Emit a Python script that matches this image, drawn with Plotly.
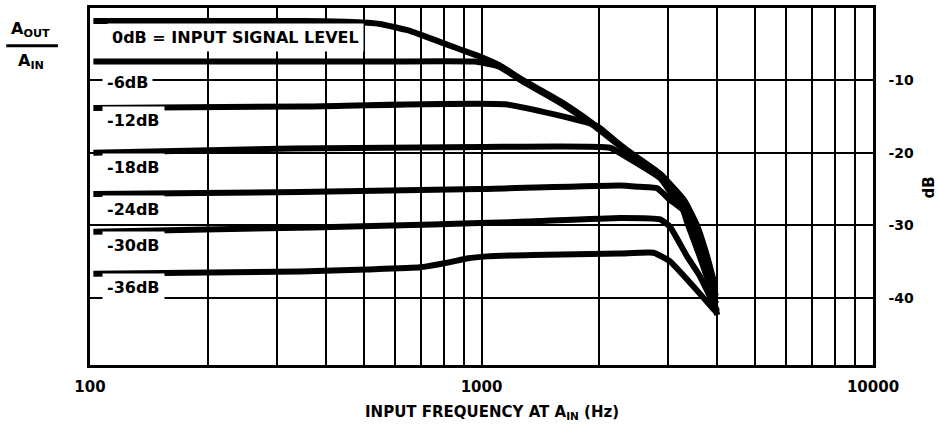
import plotly.graph_objects as go

# ---- data ----
freq_0 = [102, 350, 450, 550, 650, 750, 870, 990, 1110, 1280, 1590, 1930, 2350, 2860, 3300, 3550, 3770, 3950]
db_0 = [-1.8, -1.8, -1.9, -2.2, -3.1, -4.3, -5.6, -6.7, -7.9, -10.0, -12.9, -16.0, -19.6, -22.9, -26.6, -30.0, -34.3, -38.4]

freq_6 = [102, 500, 960, 1110, 1280, 1590, 1930, 2350, 2860, 3300, 3550, 3770, 3950]
db_6 = [-7.4, -7.4, -7.4, -8.1, -10.2, -13.1, -16.2, -19.8, -23.1, -26.8, -30.2, -34.6, -38.8]

freq_12 = [102, 350, 1150, 1970, 2350, 2860, 3280, 3500, 3730, 3900, 3975]
db_12 = [-13.8, -13.6, -13.3, -16.3, -19.8, -23.1, -26.8, -30.0, -34.3, -38.8, -39.8]

freq_18 = [102, 330, 1000, 2130, 2350, 2860, 3050, 3450, 3690, 3880, 3970]
db_18 = [-20.0, -19.4, -19.2, -19.3, -20.6, -23.5, -25.6, -29.6, -34.3, -38.8, -40.8]

freq_24 = [102, 344, 990, 2260, 2540, 2810, 3030, 3270, 3350, 3610, 3850, 4000]
db_24 = [-25.7, -25.4, -25.0, -24.5, -24.7, -24.9, -26.5, -27.9, -29.6, -34.3, -38.8, -42.4]

freq_30 = [102, 370, 750, 1300, 2260, 2860, 3030, 3350, 3610, 4000]
db_30 = [-30.9, -30.3, -29.9, -29.5, -29.0, -29.2, -30.2, -34.3, -37.0, -41.9]

freq_36 = [102, 344, 510, 697, 832, 917, 1033, 1352, 2258, 2750, 3030, 3470, 3900, 3980]
db_36 = [-36.7, -36.4, -36.1, -35.8, -35.1, -34.6, -34.3, -34.1, -33.9, -33.8, -35.0, -38.4, -41.5, -42.0]

series = [(freq_0, db_0), (freq_6, db_6), (freq_12, db_12), (freq_18, db_18),
          (freq_24, db_24), (freq_30, db_30), (freq_36, db_36)]

curve_labels = ["0dB = INPUT SIGNAL LEVEL", "-6dB", "-12dB", "-18dB", "-24dB", "-30dB", "-36dB"]

x_grid = [100, 200, 300, 400, 500, 600, 700, 800, 900,
          1000, 2000, 3000, 4000, 5000, 6000, 7000, 8000, 9000, 10000]
x_ticktext = ["100", "", "", "", "", "", "", "", "",
              "1000", "", "", "", "", "", "", "", "", "10000"]
y_ticks = [-10, -20, -30, -40]
y_ticktext = ["-10", "-20", "-30", "-40"]

FONT = "DejaVu Sans"

fig = go.Figure()
for f, d in series:
    fig.add_trace(go.Scatter(
        x=f, y=d, mode="lines",
        line=dict(color="black", width=6, shape="spline", smoothing=0.4),
        showlegend=False, hoverinfo="skip"))

fig.update_layout(
    width=938, height=429,
    margin=dict(l=90, r=65, t=5, b=64),
    paper_bgcolor="white", plot_bgcolor="white",
    font=dict(family=FONT, color="black"),
)

fig.update_xaxes(
    type="log", range=[2, 4],
    tickvals=x_grid, ticktext=x_ticktext, tickangle=0,
    showgrid=True, gridcolor="black", gridwidth=2,
    showline=True, mirror=True, linecolor="black", linewidth=2.5,
    ticks="", zeroline=False, ticklabelstandoff=6,
    tickfont=dict(family=FONT, size=15, color="black", weight="bold"),
)
fig.update_yaxes(
    range=[-49.3, 0], side="right",
    tickvals=y_ticks, ticktext=y_ticktext,
    showgrid=True, gridcolor="black", gridwidth=2,
    showline=True, mirror=True, linecolor="black", linewidth=2.5,
    ticks="", zeroline=False, ticklabelstandoff=10,
    tickfont=dict(family=FONT, size=14, color="black", weight="bold"),
)

# curve labels
label_pos = [(0.0217, 0.9167), (0.0153, 0.7917), (0.0153, 0.686), (0.0153, 0.5528),
             (0.0153, 0.4361), (0.0153, 0.3361), (0.0153, 0.2167)]
for txt, (px, py) in zip(curve_labels, label_pos):
    fig.add_annotation(
        text=txt, xref="paper", yref="paper", x=px, y=py,
        xanchor="left", yanchor="middle", showarrow=False,
        bgcolor="white", borderpad=4,
        font=dict(family=FONT, size=16, color="black", weight="bold"))

# axis titles
fig.add_annotation(
    text="INPUT FREQUENCY AT A<sub>IN</sub> (Hz)", xref="paper", yref="paper",
    x=0.513, y=-0.133, xanchor="center", yanchor="middle", showarrow=False,
    font=dict(family=FONT, size=15, color="black", weight="bold"))
fig.add_annotation(
    text="dB", xref="paper", yref="paper", x=1.0715, y=0.497,
    xanchor="center", yanchor="middle", showarrow=False, textangle=-90,
    font=dict(family=FONT, size=15, color="black", weight="bold"))
fig.add_annotation(
    text="A<sub>OUT</sub>", xref="paper", yref="paper", x=-0.0754, y=0.939,
    xanchor="center", yanchor="middle", showarrow=False,
    font=dict(family=FONT, size=16, color="black", weight="bold"))
fig.add_annotation(
    text="A<sub>IN</sub>", xref="paper", yref="paper", x=-0.0754, y=0.85,
    xanchor="center", yanchor="middle", showarrow=False,
    font=dict(family=FONT, size=16, color="black", weight="bold"))
fig.add_shape(type="line", xref="paper", yref="paper",
              x0=-0.107, x1=-0.0409, y0=0.894, y1=0.894,
              line=dict(color="black", width=3))

fig.write_html("out.html", config={"displayModeBar": False},
               post_script="document.body.style.margin='0';")
